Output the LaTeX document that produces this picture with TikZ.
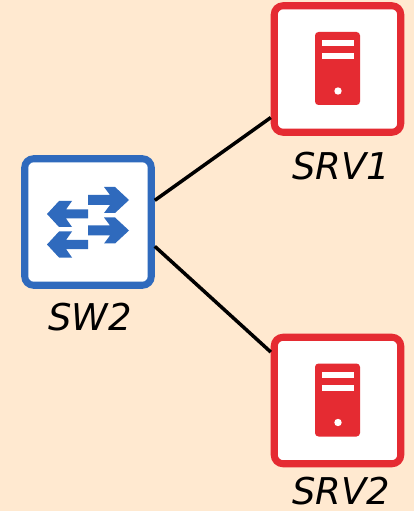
\documentclass[tikz,border=0pt]{standalone}
\usepackage{fontspec}
\setmainfont{DejaVu Sans}
\definecolor{bgcream}{HTML}{FFE9D0}
\definecolor{swblue}{HTML}{2F6ABD}
\definecolor{srvred}{HTML}{E52B32}
\tikzset{
  devbox/.style={draw=#1,fill=white,line width=4pt,rounded corners=5pt,minimum size=72pt,inner sep=0pt},
  devlabel/.style={inner sep=0pt,font=\fontsize{21}{21}\selectfont\itshape},
  link/.style={black,line width=2pt}
}
\newcommand{\servericon}[2]{
\fill [srvred,rounded corners=2pt] (#1-22.5,#2+37) rectangle (#1+22.5,#2-36);
\fill [white] (#1-15.5,#2+29) rectangle (#1+16.5,#2+23);
\fill [white] (#1-15.5,#2+16) rectangle (#1+16.5,#2+10);
\fill [white] (#1+0.5,#2-22) circle (3.7);
}
\newcommand{\rightarrowicon}[2]{
\fill [swblue] (#1,#2+5) -- (#1+22,#2+5) -- (#1+16,#2+13) -- (#1+27,#2+13) -- (#1+41,#2) -- (#1+27,#2-13) -- (#1+16,#2-13) -- (#1+22,#2-5) -- (#1,#2-5) -- cycle;
}
\newcommand{\leftarrowicon}[2]{
\fill [swblue] (#1,#2+4.5) -- (#1-22,#2+4.5) -- (#1-16,#2+13) -- (#1-29,#2+13) -- (#1-41,#2) -- (#1-29,#2-13) -- (#1-16,#2-13) -- (#1-22,#2-4.5) -- (#1,#2-4.5) -- cycle;
}
\begin{document}
\begin{tikzpicture}[scale=0.02]
\fill [bgcream] (0,0) rectangle (414,-511);
% devices
\node [devbox=swblue] (sw2) at (88,-222) {};
\node [devbox=srvred] (srv1) at (337.5,-69) {};
\node [devbox=srvred] (srv2) at (337.5,-400.5) {};
% icons
\rightarrowicon{88}{-200}
\rightarrowicon{88}{-230.5}
\leftarrowicon{88}{-214}
\leftarrowicon{88}{-244.5}
\servericon{337.5}{-69}
\servericon{337.5}{-400.5}
% links
\draw [link] (sw2.18) -- (srv1.216);
\draw [link] (sw2.-20) -- (srv2.144.5);
% labels
\node [devlabel] (sw2label) at (90,-317) {SW2};
\node [devlabel] (srv1label) at (341,-166) {SRV1};
\node [devlabel] (srv2label) at (341,-491) {SRV2};
\end{tikzpicture}
\end{document}
